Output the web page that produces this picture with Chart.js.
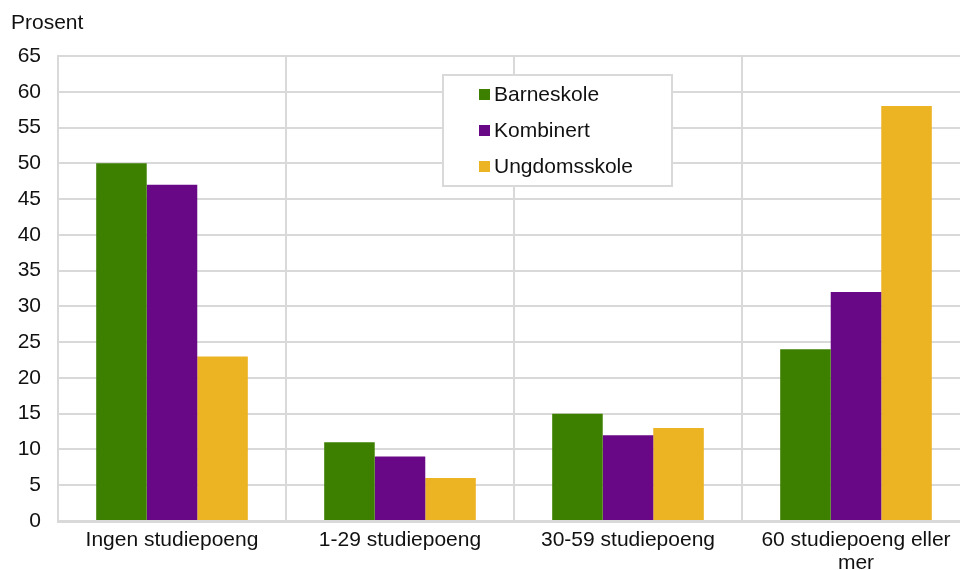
<!DOCTYPE html>
<html>
<head>
<meta charset="utf-8">
<script src="https://cdn.jsdelivr.net/npm/chart.js@4"></script>
<style>
  html, body { margin: 0; padding: 0; background: #fff; overflow: hidden; }
  #wrap { position: relative; width: 970px; height: 570px; }
</style>
</head>
<body>
<div id="wrap"><canvas id="myChart"></canvas></div>
<script>
// Kategorier og verdier (prosent)
const categories = ['Ingen studiepoeng', '1-29 studiepoeng', '30-59 studiepoeng', ['60 studiepoeng eller', 'mer']];
const barneskole = [50, 11, 15, 24];
const kombinert = [47, 9, 12, 32];
const ungdomsskole = [23, 6, 13, 58];
const seriesNames = ['Barneskole', 'Kombinert', 'Ungdomsskole'];
const seriesColors = ['#3d8000', '#690886', '#ecb322'];

const FONT = 'Liberation Sans, Arial, sans-serif';
const FSIZE = 21;

// Legende inni plottet + aksetittel "Prosent"
const extras = {
    id: 'extras',
    afterDraw(chart) {
        const ctx = chart.ctx;
        ctx.save();
        ctx.font = FSIZE + 'px ' + FONT;
        ctx.fillStyle = '#111';
        ctx.textBaseline = 'middle';
        ctx.textAlign = 'left';
        ctx.fillText('Prosent', 11, 23);

        // legendeboks
        const bx = 443, by = 75, bw = 229, bh = 111;
        ctx.fillStyle = '#fff';
        ctx.fillRect(bx, by, bw, bh);
        ctx.strokeStyle = '#d9d9d9';
        ctx.lineWidth = 2;
        ctx.strokeRect(bx, by, bw, bh);
        chart.data.datasets.forEach((ds, i) => {
            const y = by + 19 + i * 36;
            ctx.fillStyle = ds.backgroundColor;
            ctx.fillRect(bx + 36, y - 5, 11, 11);
            ctx.fillStyle = '#111';
            ctx.fillText(ds.label, bx + 51, y + 1);
        });
        ctx.restore();
    }
};

function generateChart() {
    const ctx = document.getElementById('myChart').getContext('2d');
    return new Chart(ctx, {
        type: 'bar',
        data: {
            labels: categories,
            datasets: [
                { label: seriesNames[0], data: barneskole, backgroundColor: seriesColors[0] },
                { label: seriesNames[1], data: kombinert, backgroundColor: seriesColors[1] },
                { label: seriesNames[2], data: ungdomsskole, backgroundColor: seriesColors[2] }
            ]
        },
        options: {
            responsive: true,
            maintainAspectRatio: false,
            animation: false,
            layout: { padding: { top: 56, left: 0, right: 0, bottom: 0 } },
            datasets: { bar: { barPercentage: 1, categoryPercentage: 0.665 } },
            plugins: { legend: { display: false }, tooltip: { enabled: false } },
            scales: {
                x: {
                    grid: { offset: true, color: '#d9d9d9', lineWidth: 2, drawTicks: false },
                    border: { color: '#d9d9d9', width: 3 },
                    ticks: { font: { family: FONT, size: FSIZE, lineHeight: 1.1 }, color: '#111', padding: 8, maxRotation: 0, autoSkip: false },
                    afterFit(scale) { scale.height = 49; }
                },
                y: {
                    min: 0, max: 65,
                    grid: { color: '#d9d9d9', lineWidth: 2, drawTicks: false },
                    border: { color: '#d9d9d9', width: 2 },
                    ticks: { stepSize: 5, font: { family: FONT, size: FSIZE }, color: '#111', padding: 17 },
                    afterFit(scale) { scale.width = 58; }
                }
            }
        },
        plugins: [extras]
    });
}

generateChart();
</script>
</body>
</html>
